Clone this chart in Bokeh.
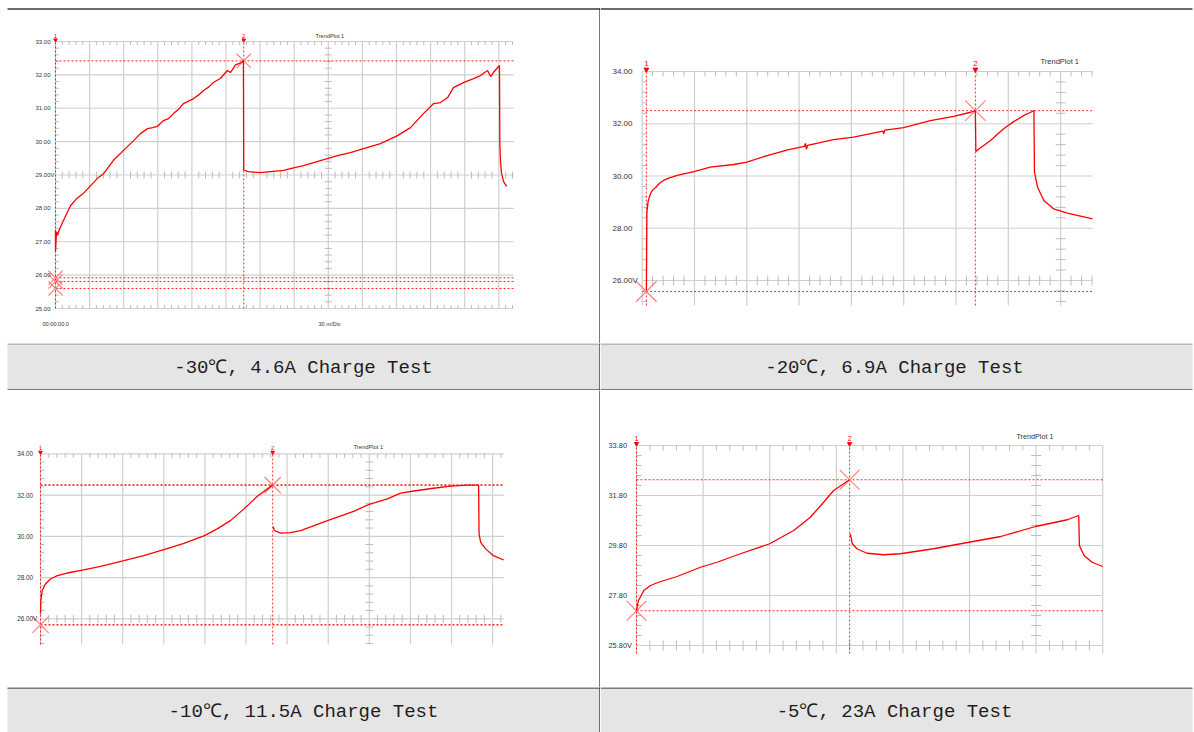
import numpy as np
from bokeh.plotting import figure
from bokeh.models import Range1d
from bokeh.layouts import column, row
from bokeh.core.properties import value
from bokeh.embed import file_html
from bokeh.resources import INLINE

nan = float("nan")

# ---------------- data (x in scope divisions, y in volts) ----------------
# -30C, 4.6A
p1_x = [0.0, 0.0, 0.03, 0.06, 0.12, 0.23, 0.44, 0.60, 0.82, 1.03, 1.23, 1.41, 1.70, 1.99, 2.29,
        2.49, 2.70, 2.85, 2.99, 3.17, 3.30, 3.46, 3.62, 3.75, 4.05, 4.20, 4.34, 4.50, 4.63,
        4.84, 5.04, 5.13, 5.28, 5.43, 5.51,
        5.52, 5.66, 6.01, 6.30, 6.69, 6.89, 7.27, 7.77, 8.27, 8.65, 9.03, 9.53, 10.03, 10.41,
        10.79, 11.09, 11.29, 11.50, 11.67, 11.96, 12.26, 12.46, 12.67, 12.76, 12.84, 13.02,
        13.03, 13.05, 13.08, 13.14, 13.23]
p1_v = [27.35, 26.70, 27.30, 27.20, 27.38, 27.63, 28.08, 28.27, 28.45, 28.68, 28.90, 29.04,
        29.44, 29.73, 30.03, 30.24, 30.39, 30.42, 30.46, 30.63, 30.68, 30.84, 30.98, 31.14,
        31.29, 31.40, 31.53, 31.64, 31.77, 31.90, 32.13, 32.07, 32.30, 32.36, 32.42,
        29.15, 29.10, 29.07, 29.10, 29.14, 29.19, 29.28, 29.43,
        29.58, 29.67, 29.79, 29.94, 30.18, 30.42, 30.84, 31.14, 31.17, 31.32, 31.62, 31.77,
        31.89, 31.98, 32.13, 31.95, 32.07, 32.28, 29.95, 29.40, 29.05, 28.80, 28.66]
p1_cursor_x = [0.0, 5.52]
p1_cursor_v = [32.42, 25.92, 25.81, 25.60]
p1_cross_x = [5.52, 0.0, 0.0, 0.0]
p1_cross_v = [32.42, 25.92, 25.81, 25.60]
p1_yticks = [25, 26, 27, 28, 29, 30, 31, 32, 33]
p1_ylabels = ["25.00", "26.00", "27.00", "28.00", "29.00V", "30.00", "31.00", "32.00", "33.00"]

# -20C, 6.9A
p2_x = [0.08, 0.09, 0.11, 0.14, 0.16, 0.20, 0.26, 0.33, 0.41, 0.52, 0.67, 0.99, 1.30, 1.75,
        2.00, 2.39, 2.78, 3.10, 3.12, 3.14, 3.16, 3.66, 4.04, 4.60, 4.62, 4.64, 5.00, 5.51,
        5.96, 6.28, 6.37, 6.38, 6.47, 6.66, 6.91, 7.11, 7.30, 7.46, 7.49, 7.50, 7.56, 7.68,
        7.87, 8.13, 8.61]
p2_v = [25.62, 28.60, 29.00, 29.22, 29.33, 29.46, 29.57, 29.72, 29.83, 29.93, 30.02, 30.17,
        30.34, 30.44, 30.53, 30.78, 31.00, 31.13, 31.25, 31.02, 31.17, 31.39, 31.49, 31.72,
        31.62, 31.76, 31.85, 32.12, 32.28, 32.44, 32.50, 30.94, 31.08, 31.36, 31.81, 32.09,
        32.32, 32.47, 32.50, 30.15, 29.57, 29.06, 28.74, 28.58, 28.36]
p2_cursor_x = [0.08, 6.37]
p2_cursor_v = [32.50, 25.58]
p2_cross_x = [6.37, 0.08]
p2_cross_v = [32.50, 25.58]
p2_yticks = [26, 28, 30, 32, 34]
p2_ylabels = ["26.00V", "28.00", "30.00", "32.00", "34.00"]

# -10C, 11.5A
p3_x = [0.0, 0.01, 0.04, 0.12, 0.24, 0.41, 0.65, 1.05, 1.46, 2.03, 2.51, 3.00, 3.49, 3.99,
        4.30, 4.62, 4.95, 5.27, 5.52, 5.65, nan, 5.66, 5.69, 5.84, 6.08, 6.33, 6.98, 7.62,
        7.98, 8.44, 8.76, 9.17, 9.56, 9.98, 10.39, 10.66, 10.67, 10.71, 10.83, 11.02, 11.27]
p3_v = [26.25, 26.90, 27.36, 27.69, 27.93, 28.09, 28.22, 28.37, 28.54, 28.82, 29.06, 29.35,
        29.66, 30.03, 30.36, 30.76, 31.33, 31.93, 32.30, 32.48, nan, 30.47, 30.28, 30.15,
        30.18, 30.28, 30.76, 31.21, 31.54, 31.81, 32.09, 32.22, 32.33, 32.43, 32.48, 32.48,
        30.12, 29.71, 29.39, 29.06, 28.85]
p3_cursor_x = [0.0, 5.65]
p3_cursor_v = [32.48, 25.71]
p3_cross_x = [5.65, 0.0]
p3_cross_v = [32.48, 25.71]
p3_yticks = [26, 28, 30, 32, 34]
p3_ylabels = ["26.00V", "28.00", "30.00", "32.00", "34.00"]

# -5C, 23A
p4_x = [0.0, 0.03, 0.11, 0.21, 0.33, 0.61, 0.96, 1.21, 1.56, 2.00, 2.36, 2.61, 2.81, 2.96,
        3.11, 3.20, nan, 3.21, 3.24, 3.31, 3.46, 3.71, 3.96, 4.46, 4.99, 5.47, 5.99, 6.47,
        6.64, 6.65, 6.72, 6.84, 7.00]
p4_v = [27.19, 27.60, 28.00, 28.20, 28.33, 28.56, 28.93, 29.13, 29.47, 29.87, 30.40, 30.93,
        31.53, 32.00, 32.27, 32.43, nan, 30.27, 29.87, 29.67, 29.49, 29.43, 29.47, 29.67,
        29.93, 30.16, 30.56, 30.83, 31.00, 29.80, 29.40, 29.13, 28.96]
p4_cursor_x = [0.0, 3.20]
p4_cursor_v = [32.43, 27.19]
p4_cross_x = [3.20, 0.0]
p4_cross_v = [32.43, 27.19]
p4_yticks = [25.8, 27.8, 29.8, 31.8, 33.8]
p4_ylabels = ["25.80V", "27.80", "29.80", "31.80", "33.80"]

captions = ["-30℃, 4.6A Charge Test", "-20℃, 6.9A Charge Test",
            "-10℃, 11.5A Charge Test", "-5℃, 23A Charge Test"]
cursor_names = ["1", "2"]

# ---------------- styles ----------------
RED = "#ff0000"
CROSS = "#ff8080"
GRID = "#cfcfcf"
TICK = "#bdbdbd"
LABEL = "#333333"
SANS = "Liberation Sans"


def make_panel(cfg, xs, vs, cur_x, hl_v, cr_x, cr_v, yticks, ylabels):
    cx0, cy0, w, h = cfg["cell"]
    fl, ft, fr, fb = cfg["frame"]
    dpx, vpx, ytop = cfg["div_px"], cfg["vpx"], cfg["ytop"]
    xmax = (fr - fl) / dpx
    ybot = ytop - (fb - ft) / vpx
    p = figure(width=w, height=h,
               x_range=Range1d((cx0 - fl) / dpx, (cx0 + w - fl) / dpx),
               y_range=Range1d(ytop - (cy0 + h - ft) / vpx, ytop + (ft - cy0) / vpx),
               x_axis_type=None, y_axis_type=None, toolbar_location=None,
               min_border=0, outline_line_color=None, output_backend="svg",
               background_fill_color="white", border_fill_color="white")
    p.extra_x_ranges = {"px": Range1d(cx0, cx0 + w)}
    p.extra_y_ranges = {"py": Range1d(cy0 + h, cy0)}

    # major grid
    kx = np.arange(0, np.floor(xmax + 1e-6) + 1)
    p.segment(x0=kx, y0=ybot, x1=kx, y1=ytop, line_color=GRID, line_width=1.2)
    p.segment(x0=0, y0=yticks, x1=xmax, y1=yticks, line_color=GRID, line_width=1.2)

    # minor ticks
    t = cfg["tick"]
    tx, ty = t / dpx, t / vpx
    mx = np.array([x for x in np.arange(0, xmax + 1e-9, 0.2) if abs(x - round(x)) > 1e-6])
    p.segment(x0=mx, y0=ytop, x1=mx, y1=ytop - ty, line_color=TICK, line_width=1)
    cy = cfg["cy"]
    p.segment(x0=mx, y0=cy - ty, x1=mx, y1=cy + ty, line_color=TICK, line_width=1)
    if cfg["bottom_ticks"]:
        p.segment(x0=mx, y0=ybot, x1=mx, y1=ybot + ty, line_color=TICK, line_width=1)
    step = cfg["ystep"]
    my = []
    for k in range(-60, 200):
        y = yticks[0] + k * step
        if ybot - 1e-9 <= y <= ytop + 1e-9 and min(abs(y - m) for m in yticks) > 1e-6:
            my.append(y)
    my = np.array(my)
    cxx = cfg["cx"]
    p.segment(x0=0, y0=my, x1=tx, y1=my, line_color=TICK, line_width=1)
    p.segment(x0=cxx - tx, y0=my, x1=cxx + tx, y1=my, line_color=TICK, line_width=1)

    # cursors
    p.segment(x0=cur_x, y0=ybot, x1=cur_x, y1=ytop, line_color=RED, line_dash="2 2",
              line_width=1, line_alpha=0.85)
    p.segment(x0=0, y0=hl_v, x1=xmax, y1=hl_v, line_color=RED, line_dash="2 2",
              line_width=cfg.get("hl_w", 1), line_alpha=0.85)
    ms = cfg["mark"]
    p.scatter(x=cur_x, y=ytop + (ms * 0.25) / vpx, marker="inverted_triangle",
              size=ms * 0.6, fill_color=RED, line_color=RED)
    p.text(x=cur_x, y=ytop + (ms * 1.0) / vpx, text=cursor_names, text_align="center",
           text_baseline="middle", text_font=value(SANS),
           text_font_size=value(f"{ms}px"), text_color=RED)

    # crosses
    p.scatter(x=cr_x, y=cr_v, marker="x", size=cfg["cross"], line_color=CROSS,
              line_width=1.2)

    # trace
    p.line(np.array(xs, dtype=float), np.array(vs, dtype=float), line_color=RED,
           line_width=1.3)

    # y labels
    p.text(x=cfg["lab_left"], y=yticks, text=ylabels, x_range_name="px",
           text_align="left", text_baseline="middle", text_font=value(SANS),
           text_font_size=value(f"{cfg['lab_size']}px"), text_color=LABEL)

    # plot title and other texts (page px)
    for (tx0, ty0, fs, s) in cfg["texts"]:
        p.text(x=[tx0], y=[ty0], text=[s], x_range_name="px", y_range_name="py",
               text_align="left", text_baseline="middle", text_font=value(SANS),
               text_font_size=value(f"{fs}px"), text_color=LABEL)

    # table borders (page px)
    for (a, b, c, d, col, lw) in cfg["borders"]:
        p.segment(x0=[a], y0=[b], x1=[c], y1=[d], line_color=col, line_width=lw,
                  x_range_name="px", y_range_name="py")
    return p


def make_caption(cell, text, tx, ty, fill, lines):
    cx0, cy0, w, h = cell
    p = figure(width=w, height=h, x_range=Range1d(cx0, cx0 + w),
               y_range=Range1d(cy0 + h, cy0), x_axis_type=None, y_axis_type=None,
               toolbar_location=None, min_border=0, outline_line_color=None,
               output_backend="svg", background_fill_color="white",
               border_fill_color="white")
    p.quad(left=[fill[0]], right=[fill[1]], top=[cy0], bottom=[cy0 + h],
           fill_color="#e5e5e5", line_color=None)
    for (a, b, c, d, col, lw) in lines:
        p.segment(x0=[a], y0=[b], x1=[c], y1=[d], line_color=col, line_width=lw)
    p.text(x=[tx], y=[ty], text=[text], text_align="center", text_baseline="middle",
           text_font=value("Liberation Mono"), text_font_size=value("19px"),
           text_color="#1e1e1e")
    return p


cfg1 = dict(cell=(0, 0, 600, 343), frame=(55, 41, 513, 308), div_px=34.1, ytop=33.0,
            vpx=33.375, ystep=0.2, cx=8, cy=29.0, bottom_ticks=True, tick=3.5,
            lab_left=35, lab_size=6, mark=6, cross=20,
            texts=[(315, 35, 5.6, "TrendPlot 1"), (42, 323, 5.6, "00:00:00.0"),
                   (318, 323, 5.6, "30 m/Div")],
            borders=[(7, 8.5, 600, 8.5, "#3a3a3a", 1.5), (599.5, 8, 599.5, 343, "#222222", 1.2)])
cfg2 = dict(cell=(600, 0, 594, 343), frame=(641.7, 71, 1092, 305), div_px=52.3, ytop=34.0,
            vpx=26.125, ystep=0.4, cx=8, cy=26.0, bottom_ticks=False, tick=5,
            lab_left=612, lab_size=8, mark=8, cross=29,
            texts=[(1040, 61, 7.5, "TrendPlot 1")],
            borders=[(600, 8.5, 1192, 8.5, "#3a3a3a", 1.5)])
cfg3 = dict(cell=(0, 390, 600, 297), frame=(40, 453.3, 503.3, 644), div_px=41.1, ytop=34.0,
            vpx=20.625, ystep=0.4, cx=8, cy=26.0, bottom_ticks=False, tick=4,
            lab_left=16.7, lab_size=6.3, mark=6, cross=23, hl_w=1.6,
            texts=[(353, 446, 5.8, "TrendPlot 1")],
            borders=[(599.5, 390, 599.5, 687, "#222222", 1.2)])
cfg4 = dict(cell=(600, 390, 594, 297), frame=(636, 445, 1102.2, 653), div_px=66.6, ytop=33.8,
            vpx=25.0, ystep=0.4, cx=6, cy=25.8, bottom_ticks=False, tick=5,
            lab_left=608, lab_size=7.4, mark=7, cross=28,
            texts=[(1016, 436, 7.2, "TrendPlot 1")],
            borders=[])

P1 = make_panel(cfg1, p1_x, p1_v, p1_cursor_x, p1_cursor_v, p1_cross_x, p1_cross_v, p1_yticks, p1_ylabels)
P2 = make_panel(cfg2, p2_x, p2_v, p2_cursor_x, p2_cursor_v, p2_cross_x, p2_cross_v, p2_yticks, p2_ylabels)
P3 = make_panel(cfg3, p3_x, p3_v, p3_cursor_x, p3_cursor_v, p3_cross_x, p3_cross_v, p3_yticks, p3_ylabels)
P4 = make_panel(cfg4, p4_x, p4_v, p4_cursor_x, p4_cursor_v, p4_cross_x, p4_cross_v, p4_yticks, p4_ylabels)

C1 = make_caption((0, 343, 600, 47), captions[0], 303, 367, (7, 600),
                  [(7, 343.5, 600, 343.5, "#8a8a8a", 1.2), (7, 389.5, 600, 389.5, "#111111", 1.2),
                   (599.5, 343, 599.5, 390, "#222222", 1.2)])
C2 = make_caption((600, 343, 594, 47), captions[1], 894, 367, (600, 1192),
                  [(600, 343.5, 1192, 343.5, "#8a8a8a", 1.2), (600, 389.5, 1192, 389.5, "#111111", 1.2)])
C3 = make_caption((0, 687, 600, 45), captions[2], 303, 711, (7, 600),
                  [(7, 687.5, 600, 687.5, "#111111", 1.2), (599.5, 687, 599.5, 732, "#222222", 1.2)])
C4 = make_caption((600, 687, 594, 45), captions[3], 894, 711, (600, 1192),
                  [(600, 687.5, 1192, 687.5, "#111111", 1.2)])

layout = column(row(P1, P2), row(C1, C2), row(P3, P4), row(C3, C4))

open("out.html", "w", encoding="utf-8").write(file_html(layout, INLINE))
